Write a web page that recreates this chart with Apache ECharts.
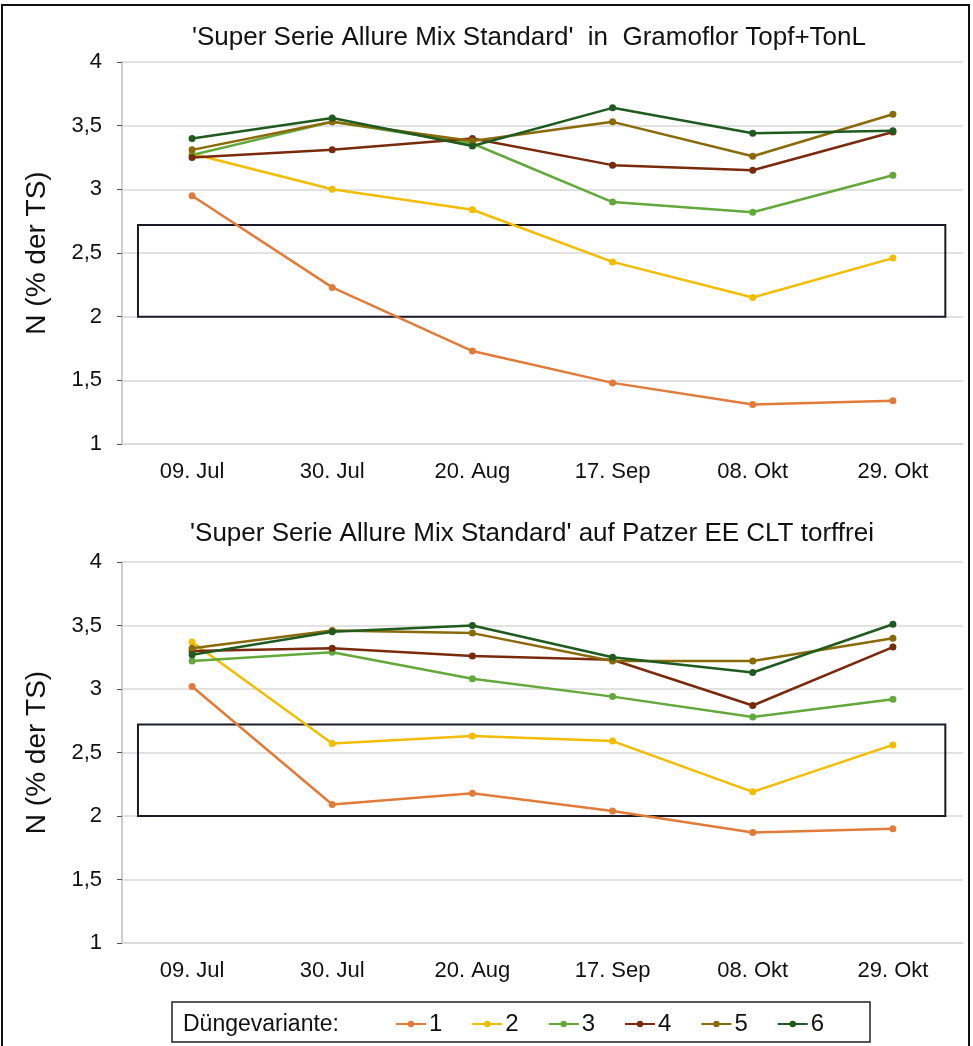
<!DOCTYPE html>
<html>
<head>
<meta charset="utf-8">
<script src="https://cdn.jsdelivr.net/npm/echarts@6/dist/echarts.min.js"></script>
<style>
html,body{margin:0;padding:0;background:#fff;}
#chart{width:973px;height:1046px;}
</style>
</head>
<body>
<div id="chart"></div>
<script>
const categories = ['09. Jul', '30. Jul', '20. Aug', '17. Sep', '08. Okt', '29. Okt'];
const seriesNames = ['1', '2', '3', '4', '5', '6'];
const seriesColors = ['#E07B39', '#F2BC00', '#63A83A', '#7A2A0C', '#8A6A08', '#1F5A1F'];
const yTicks = [1, 1.5, 2, 2.5, 3, 3.5, 4];
const titleTop = "'Super Serie Allure Mix Standard'  in  Gramoflor Topf+TonL";
const titleBottom = "'Super Serie Allure Mix Standard' auf Patzer EE CLT torffrei";
const legendLabel = 'Düngevariante:';
const yName = 'N (% der TS)';
const targetRange = [2.0, 2.72];

// Top chart: Gramoflor Topf+TonL
const top1 = [2.95, 2.23, 1.73, 1.48, 1.31, 1.34];
const top2 = [3.28, 3.00, 2.84, 2.43, 2.15, 2.46];
const top3 = [3.27, 3.53, 3.36, 2.90, 2.82, 3.11];
const top4 = [3.25, 3.31, 3.40, 3.19, 3.15, 3.45];
const top5 = [3.31, 3.53, 3.38, 3.53, 3.26, 3.59];
const top6 = [3.40, 3.56, 3.34, 3.64, 3.44, 3.46];
// Bottom chart: Patzer EE CLT torffrei
const bot1 = [3.02, 2.09, 2.18, 2.04, 1.87, 1.90];
const bot2 = [3.37, 2.57, 2.63, 2.59, 2.19, 2.56];
const bot3 = [3.22, 3.29, 3.08, 2.94, 2.78, 2.92];
const bot4 = [3.30, 3.32, 3.26, 3.23, 2.87, 3.33];
const bot5 = [3.32, 3.46, 3.44, 3.22, 3.22, 3.40];
const bot6 = [3.27, 3.45, 3.50, 3.25, 3.13, 3.51];

const topData = [top1, top2, top3, top4, top5, top6];
const botData = [bot1, bot2, bot3, bot4, bot5, bot6];

const FONT = 'Liberation Sans, Arial, sans-serif';
const chart = echarts.init(document.getElementById('chart'), null, {renderer: 'canvas'});

function yAxisCfg(gi) {
  return {
    type: 'value', gridIndex: gi, min: 1, max: 4, interval: 0.5,
    name: yName, nameLocation: 'middle', nameGap: 71, nameRotate: 90,
    nameTextStyle: {fontFamily: FONT, fontSize: 28, color: '#111'},
    axisLine: {show: true, lineStyle: {color: '#bfbfbf', width: 1.5}},
    axisTick: {show: true, length: 5, lineStyle: {color: '#555'}},
    axisLabel: {fontFamily: FONT, fontSize: 22, color: '#111', margin: 20,
      formatter: v => yTicks.indexOf(v) >= 0 ? String(v).replace('.', ',') : ''},
    splitLine: {show: true, lineStyle: {color: '#d9d9d9', width: 1.5}}
  };
}
function xAxisCfg(gi) {
  return {
    type: 'category', gridIndex: gi, data: categories, boundaryGap: true,
    axisLine: {show: true, lineStyle: {color: '#d9d9d9', width: 1.5}},
    axisTick: {show: false},
    axisLabel: {fontFamily: FONT, fontSize: 22, color: '#111', margin: 17}
  };
}
function hiddenX(gi) {
  return {type: 'value', gridIndex: gi, min: 0, max: 1, show: false};
}

const series = [];
[topData, botData].forEach((set, gi) => {
  set.forEach((vals, i) => {
    series.push({
      name: seriesNames[i], type: 'line', xAxisIndex: gi, yAxisIndex: gi,
      data: vals, symbol: 'circle', symbolSize: 7, color: seriesColors[i],
      lineStyle: {width: 2.5}, z: 3 + i, animation: false
    });
  });
  series.push({
    type: 'line', xAxisIndex: 2 + gi, yAxisIndex: gi, data: [], silent: true,
    markArea: {
      silent: true,
      itemStyle: {color: 'rgba(0,0,0,0)', borderColor: '#1a1a2a', borderWidth: 2},
      data: [[{xAxis: 0.019, yAxis: targetRange[0]}, {xAxis: 0.979, yAxis: targetRange[1]}]]
    }
  });
});

chart.setOption({
  animation: false,
  backgroundColor: '#fff',
  title: [
    {text: titleTop, left: 524, textAlign: 'center', top: 20,
     textStyle: {fontFamily: FONT, fontSize: 26, fontWeight: 'normal', color: '#111'}},
    {text: titleBottom, left: 527, textAlign: 'center', top: 516,
     textStyle: {fontFamily: FONT, fontSize: 26, fontWeight: 'normal', color: '#111'}}
  ],
  grid: [
    {left: 122, right: 10, top: 62, height: 382},
    {left: 122, right: 10, top: 562, height: 381}
  ],
  xAxis: [xAxisCfg(0), xAxisCfg(1), hiddenX(0), hiddenX(1)],
  yAxis: [yAxisCfg(0), yAxisCfg(1)],
  legend: {
    data: seriesNames, left: 390, top: 1007, itemGap: 29, itemWidth: 30, itemHeight: 8,
    textStyle: {fontFamily: FONT, fontSize: 24, color: '#111', padding: [0, 0, 0, -2]},
    selectedMode: false
  },
  graphic: [
    {type: 'rect', shape: {x: 2, y: 5, width: 967, height: 1060},
     style: {fill: 'none', stroke: '#111', lineWidth: 2}, silent: true},
    {type: 'rect', shape: {x: 172, y: 1002, width: 698, height: 40},
     style: {fill: 'none', stroke: '#222', lineWidth: 1.5}, silent: true},
    {type: 'text', left: 183, top: 1013,
     style: {text: legendLabel, font: '23px Liberation Sans, Arial, sans-serif', fill: '#111'}}
  ],
  series: series
});
</script>
</body>
</html>
